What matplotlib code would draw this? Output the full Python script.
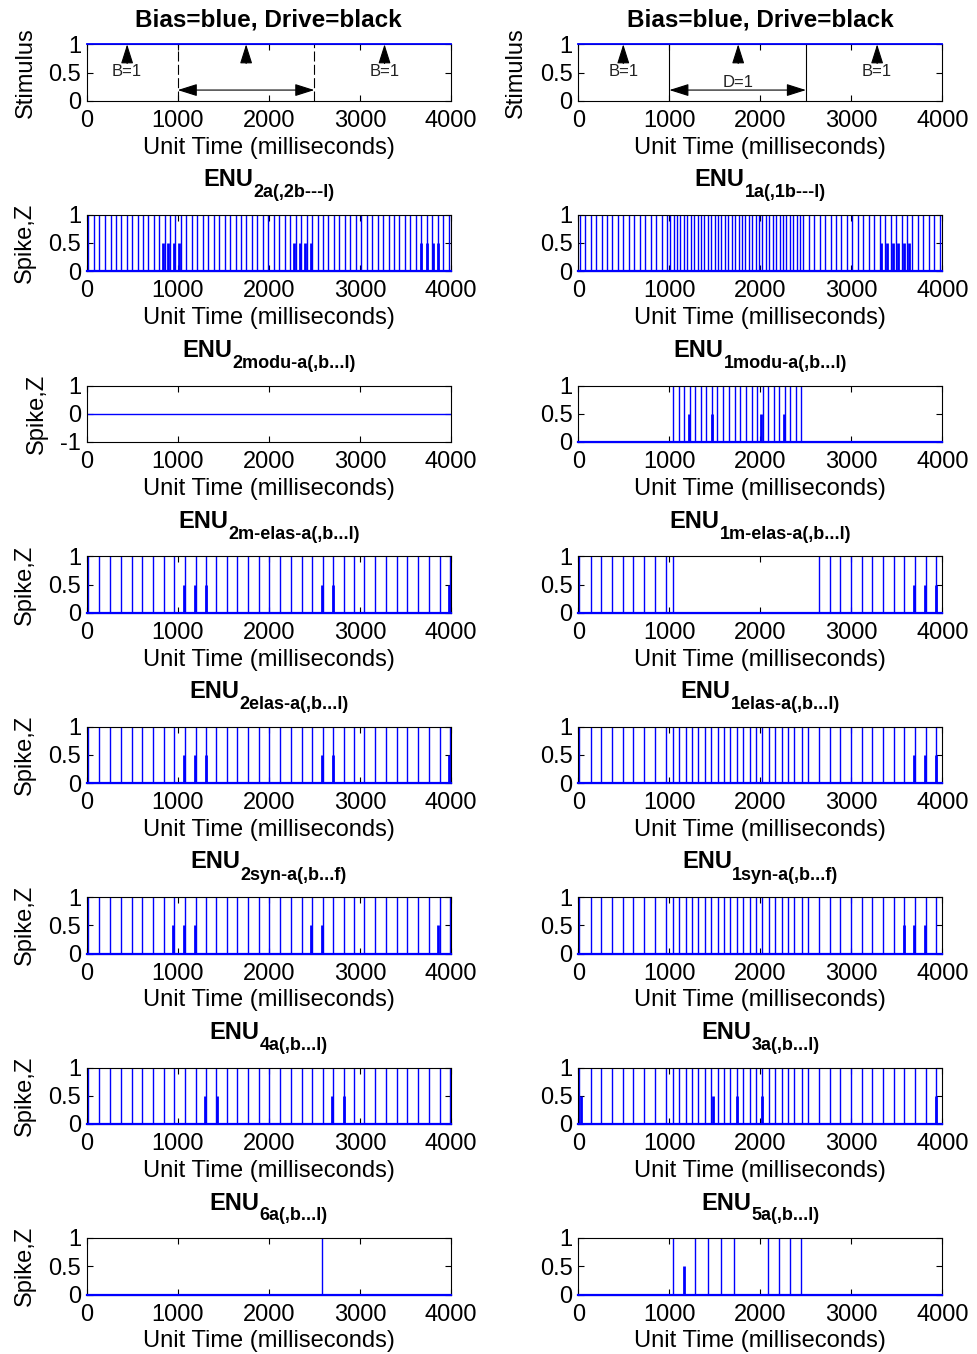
import matplotlib
matplotlib.use('Agg')
import matplotlib.pyplot as plt

plt.rcParams['font.family'] = ['Liberation Sans', 'DejaVu Sans']

# ---------------- data (milliseconds) ----------------
XTICKS = [0, 1000, 2000, 3000, 4000]
TOP_TITLE = 'Bias=blue, Drive=black'
DRIVE_EDGES = [1000, 2500]
STIM_ARROWS_L = [444, 1751, 3271]
STIM_ARROWS_R = [494, 1756, 3282]
STIM_TEXT_L = ['B=1', '', 'B=1']
STIM_TEXT_R = ['B=1', 'D=1', 'B=1']

# ENU2a
L2_full = [18, 80, 140, 200, 262, 320, 380, 440, 500, 560, 618, 678, 735, 795, 855,
           915, 975, 1035, 1095, 1155, 1215, 1275, 1335, 1395, 1455, 1515, 1575,
           1635, 1695, 1755, 1815, 1875, 1935, 1995, 2055, 2115, 2175, 2235, 2295,
           2355, 2415, 2475, 2535, 2595, 2655, 2715, 2775, 2835, 2895, 2955, 3015,
           3075, 3135, 3195, 3255, 3315, 3375, 3435, 3495, 3555, 3615, 3675, 3735,
           3795, 3855, 3915, 3975]
L2_half = [835, 895, 960, 1015, 2282, 2341, 2403, 2461, 3670, 3736, 3798, 3857]
# ENU1a
R2_full = [14, 75, 135, 195, 255, 316, 375, 435, 496, 555, 615, 676, 735, 795, 855,
           915, 975, 1010, 1048, 1085, 1122, 1160, 1197, 1235, 1272, 1310, 1347,
           1385, 1422, 1460, 1497, 1535, 1572, 1610, 1647, 1685, 1722, 1760, 1797,
           1835, 1872, 1910, 1947, 1985, 2022, 2060, 2097, 2135, 2172, 2210, 2247,
           2285, 2322, 2360, 2397, 2435, 2472, 2530, 2590, 2650, 2710, 2770, 2830,
           2890, 2950, 3010, 3070, 3130, 3190, 3250, 3310, 3370, 3430, 3490, 3550,
           3610, 3670, 3730, 3790, 3850, 3910, 3970]
R2_half = [3330, 3392, 3454, 3513, 3575, 3637]
# ENU2modu-a : flat line at zero
L3_level = 0
# ENU1modu-a
R3_full = [1043, 1102, 1164, 1226, 1285, 1343, 1405, 1468, 1523, 1585, 1651, 1717,
           1779, 1841, 1903, 1962, 2024, 2083, 2145, 2207, 2269, 2328, 2390, 2449]
R3_half = [1219, 1468, 2009, 2262]
# regular ENU2 trains (m-elas, elas, syn, 4a)
L_regular = [18, 140, 257, 375, 493, 610, 728, 845, 963, 1081, 1195, 1309, 1423,
             1537, 1654, 1772, 1890, 2007, 2125, 2242, 2360, 2478, 2595, 2706, 2823,
             2941, 3051, 3169, 3286, 3404, 3522, 3639, 3757, 3875, 3992]
L4_half = [1066, 1184, 1309, 2581, 2706, 3977]
L5_half = [1066, 1184, 1309, 2581, 2706, 3977]
L6_half = [948, 1073, 1191, 2463, 2588, 3860]
L7_half = [1301, 1426, 2698, 2823]
# ENU1m-elas-a
R4_full = [11, 136, 253, 370, 488, 605, 722, 843, 960, 1037, 2643, 2760, 2878, 2995,
           3112, 3230, 3347, 3464, 3582, 3699, 3816, 3926]
R4_half = [3684, 3809, 3926]
# ENU1elas / ENU1syn / ENU3a
R5_full = [11, 136, 253, 370, 488, 605, 722, 843, 960, 1037, 1111, 1180, 1250, 1320,
           1389, 1459, 1529, 1598, 1668, 1738, 1807, 1881, 1950, 2020, 2090, 2159,
           2233, 2302, 2372, 2456, 2526, 2643, 2760, 2878, 2995, 3112, 3230, 3347,
           3464, 3582, 3699, 3816, 3926]
R5_half = [3684, 3809, 3926]
R6_full = R5_full
R6_half = [3574, 3692, 3809]
R7_full = R5_full
R7_half = [30, 1476, 1740, 2014, 3924]
# ENU6a / ENU5a
L8_full = [2586]
L8_half = []
R8_full = [1040, 1281, 1424, 1566, 1709, 2082, 2203, 2325, 2446]
R8_half = [1160]

L_TITLES = ['2a(,2b---l)', '2modu-a(,b...l)', '2m-elas-a(,b...l)', '2elas-a(,b...l)',
            '2syn-a(,b...f)', '4a(,b...l)', '6a(,b...l)']
R_TITLES = ['1a(,1b---l)', '1modu-a(,b...l)', '1m-elas-a(,b...l)', '1elas-a(,b...l)',
            '1syn-a(,b...f)', '3a(,b...l)', '5a(,b...l)']
L_SPIKES = [(L2_full, L2_half), None, (L_regular, L4_half), (L_regular, L5_half),
            (L_regular, L6_half), (L_regular, L7_half), (L8_full, L8_half)]
R_SPIKES = [(R2_full, R2_half), (R3_full, R3_half), (R4_full, R4_half),
            (R5_full, R5_half), (R6_full, R6_half), (R7_full, R7_half),
            (R8_full, R8_half)]

# ---------------- layout ----------------
BLUE = '#0000ff'
W, H = 978, 1354
COL_X = [86.7, 578.3]
AX_W, AX_H = 364.2, 56.5
ROW_TOP = [44.3, 214.7, 385.5, 556.3, 726.5, 897, 1067.5, 1238]

fig = plt.figure(figsize=(W / 100, H / 100), dpi=100)
renderer = fig.canvas.get_renderer()


def make_ax(col, row):
    top = ROW_TOP[row]
    return fig.add_axes([COL_X[col] / W, 1 - (top + AX_H) / H, AX_W / W, AX_H / H])


def style(ax, yticks=(0, 0.5, 1), ylabels=('0', '0.5', '1')):
    ax.set_xlim(0, 4000)
    ax.set_ylim(yticks[0], yticks[-1])
    ax.set_xticks(XTICKS)
    ax.set_xticklabels([str(t) for t in XTICKS])
    ax.set_yticks(yticks)
    ax.set_yticklabels(ylabels)
    ax.tick_params(direction='in', top=True, right=True, length=4, width=0.8,
                   labelsize=17)
    ax.tick_params(axis='x', pad=6.5)
    ax.tick_params(axis='y', pad=4)
    for s in ax.spines.values():
        s.set_linewidth(0.8)
    ax.set_xlabel('Unit Time (milliseconds)', fontsize=17, labelpad=3.5)


def enu_title(col, row, sub):
    # "ENU" + lowered subscript, centred over the axes
    cx = COL_X[col] + AX_W / 2
    base = ROW_TOP[row] - 28.5
    t1 = fig.text(0, 0, 'ENU', fontsize=17, fontweight='bold')
    t2 = fig.text(0, 0, sub, fontsize=13, fontweight='bold')
    w1 = t1.get_window_extent(renderer).width
    w2 = t2.get_window_extent(renderer).width
    left = cx - (w1 + w2) / 2
    t1.set_position((left / W, 1 - base / H))
    t2.set_position(((left + w1) / W, 1 - (base + 11) / H))
    t1.set_va('baseline')
    t2.set_va('baseline')


def stimulus(ax, arrows, texts, dashed):
    style(ax)
    ax.axhline(1, color=BLUE, lw=1.3, zorder=4, clip_on=False)
    ls = (0, (9, 3)) if dashed else '-'
    ax.vlines(DRIVE_EDGES, 0, 1, colors='k', lw=0.8, linestyles=ls)
    for x in arrows:
        ax.annotate('', xy=(x, 1.0), xytext=(x, 0.66),
                    arrowprops=dict(arrowstyle='-|>,head_length=1.2,head_width=0.38',
                                    color='k', lw=0.8, shrinkA=0, shrinkB=0))
    ax.annotate('', xy=(DRIVE_EDGES[0], 0.19), xytext=(DRIVE_EDGES[1], 0.19),
                arrowprops=dict(arrowstyle='<|-|>,head_length=1.2,head_width=0.38',
                                color='k', lw=0.8, shrinkA=0, shrinkB=0))
    txt_y = [0.51, 0.33, 0.51]
    for x, t, y in zip(arrows, texts, txt_y):
        if t:
            ax.text(x, y, t, ha='center', va='center', fontsize=12, color='#222222')
    ax.set_title(TOP_TITLE, fontsize=17.5, fontweight='bold', pad=13)
    ax.set_ylabel('Stimulus', fontsize=17)


def spikes(ax, full, half):
    style(ax)
    ax.vlines(full, 0, 1, colors=BLUE, lw=1.0)
    if half:
        ax.vlines(half, 0, 0.5, colors=BLUE, lw=2.0)
    ax.axhline(0, color=BLUE, lw=1.6, zorder=4, clip_on=False)


# row 1 stimulus
axL = make_ax(0, 0)
stimulus(axL, STIM_ARROWS_L, STIM_TEXT_L, True)
axL.yaxis.set_label_coords(-0.137, 0.5)
axR = make_ax(1, 0)
stimulus(axR, STIM_ARROWS_R, STIM_TEXT_R, False)
axR.yaxis.set_label_coords(-0.141, 0.5)

for i in range(7):
    axl = make_ax(0, i + 1)
    if L_SPIKES[i] is None:
        style(axl, yticks=(-1, 0, 1), ylabels=('-1', '0', '1'))
        axl.axhline(L3_level, color=BLUE, lw=1.0)
        axl.set_ylabel('Spike,Z', fontsize=17)
        axl.yaxis.set_label_coords(-0.106, 0.5)
    else:
        spikes(axl, L_SPIKES[i][0], L_SPIKES[i][1])
        axl.set_ylabel('Spike,Z', fontsize=17)
        axl.yaxis.set_label_coords(-0.139, 0.5)
    enu_title(0, i + 1, L_TITLES[i])
    axr = make_ax(1, i + 1)
    spikes(axr, R_SPIKES[i][0], R_SPIKES[i][1])
    enu_title(1, i + 1, R_TITLES[i])

fig.savefig('out.png', dpi=100)
